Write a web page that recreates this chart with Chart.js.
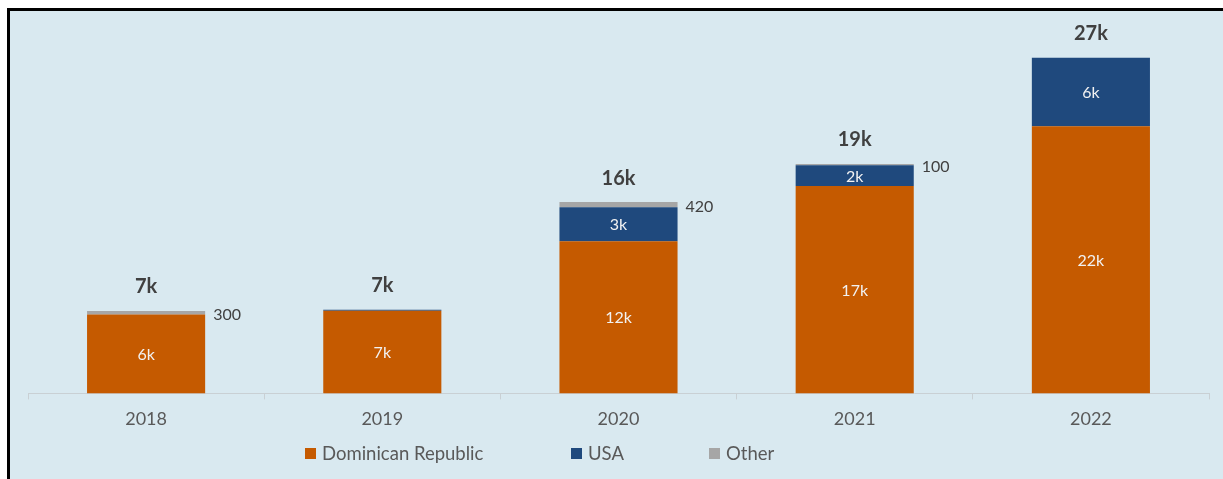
<!DOCTYPE html>
<html>
<head>
<meta charset="utf-8">
<script src="https://cdn.jsdelivr.net/npm/chart.js@4/dist/chart.umd.min.js"></script>
<style>
  body { margin: 0; background: #fff; width: 1223px; height: 479px; overflow: hidden; position: relative; font-family: Lato, "Open Sans", sans-serif; }
  #quadro { position: absolute; left: 7px; top: 8px; width: 1213px; height: 468px; border-left: 3px solid #000; border-top: 3px solid #000; background: #d9e9f0; }
  #grafico { position: absolute; left: 0; top: 0; }
  #legenda { position: absolute; left: 0; top: 0; width: 100%; height: 100%; pointer-events: none; }
  .item { position: absolute; top: 431px; display: flex; align-items: center; font-size: 18.5px; color: #595959; }
  .caixa { width: 11px; height: 11px; margin-right: 6px; }
</style>
</head>
<body>
<div id="quadro">
  <canvas id="grafico" width="1213" height="468"></canvas>
  <div id="legenda"></div>
</div>
<script>
// thousands of people per year, by origin
const anos = ['2018', '2019', '2020', '2021', '2022'];
const republicaDominicana = [6.4, 6.72, 12.36, 16.85, 21.7];
const eua = [0, 0.08, 2.76, 1.68, 5.55];
const outros = [0.3, 0, 0.42, 0.1, 0];

const nomes = ['Dominican Republic', 'USA', 'Other'];
const cores = ['#c55a00', '#1f497d', '#a6a6a6'];
const posLegenda = [295, 561, 699];

// labels inside the bars, totals above and the small "Other" values on the side
const rotulos = {
    id: 'rotulos',
    afterDatasetsDraw(chart) {
        const ctx = chart.ctx;
        const y = chart.scales.y;
        ctx.save();
        ctx.textAlign = 'center';
        ctx.textBaseline = 'middle';

        [0, 1].forEach(d => {
            const meta = chart.getDatasetMeta(d);
            const valores = chart.data.datasets[d].data;
            meta.data.forEach((barra, i) => {
                if (valores[i] < 1) return;
                const p = barra.getProps(['x', 'y', 'base'], true);
                ctx.fillStyle = '#f2f2f2';
                ctx.font = '16px Lato';
                ctx.fillText(Math.round(valores[i]) + 'k', p.x, (p.y + p.base) / 2 + 1);
            });
        });

        const metaOutros = chart.getDatasetMeta(2);
        metaOutros.data.forEach((barra, i) => {
            if (!outros[i]) return;
            const p = barra.getProps(['x', 'y', 'base', 'width'], true);
            ctx.textAlign = 'left';
            ctx.fillStyle = '#404040';
            ctx.font = '16px Lato';
            ctx.fillText(String(Math.round(outros[i] * 1000)), p.x + p.width / 2 + 8, (p.y + p.base) / 2 + 2);
        });

        ctx.textAlign = 'center';
        anos.forEach((ano, i) => {
            const total = republicaDominicana[i] + eua[i] + outros[i];
            const x = chart.getDatasetMeta(0).data[i].x;
            ctx.fillStyle = '#404040';
            ctx.font = 'bold 20px Lato';
            ctx.fillText(Math.round(total) + 'k', x, y.getPixelForValue(total) - 24);
        });
        ctx.restore();
    }
};

const grafico = new Chart(document.getElementById('grafico'), {
    type: 'bar',
    data: {
        labels: anos,
        datasets: [
            { label: nomes[0], data: republicaDominicana, backgroundColor: cores[0] },
            { label: nomes[1], data: eua, backgroundColor: cores[1] },
            { label: nomes[2], data: outros, backgroundColor: cores[2] }
        ]
    },
    options: {
        responsive: false,
        animation: false,
        devicePixelRatio: 1,
        layout: { padding: { left: 18, right: 14, top: 13, bottom: 40 } },
        datasets: { bar: { barPercentage: 0.5, categoryPercentage: 1 } },
        plugins: {
            legend: { display: false },
            tooltip: { enabled: false }
        },
        scales: {
            x: {
                stacked: true,
                border: { color: '#c9d0d4', width: 1 },
                grid: { offset: true, drawOnChartArea: false, tickLength: 6, color: '#c9d0d4' },
                ticks: { color: '#595959', font: { family: 'Lato', size: 18 }, padding: 9 }
            },
            y: {
                stacked: true,
                display: false,
                min: 0,
                max: 30
            }
        }
    },
    plugins: [rotulos]
});

// legend built from the dataset names and colours
const legenda = document.getElementById('legenda');
nomes.forEach((nome, i) => {
    const item = document.createElement('div');
    item.className = 'item';
    item.style.left = posLegenda[i] + 'px';
    const caixa = document.createElement('span');
    caixa.className = 'caixa';
    caixa.style.background = cores[i];
    item.appendChild(caixa);
    item.appendChild(document.createTextNode(nome));
    legenda.appendChild(item);
});
</script>
</body>
</html>
